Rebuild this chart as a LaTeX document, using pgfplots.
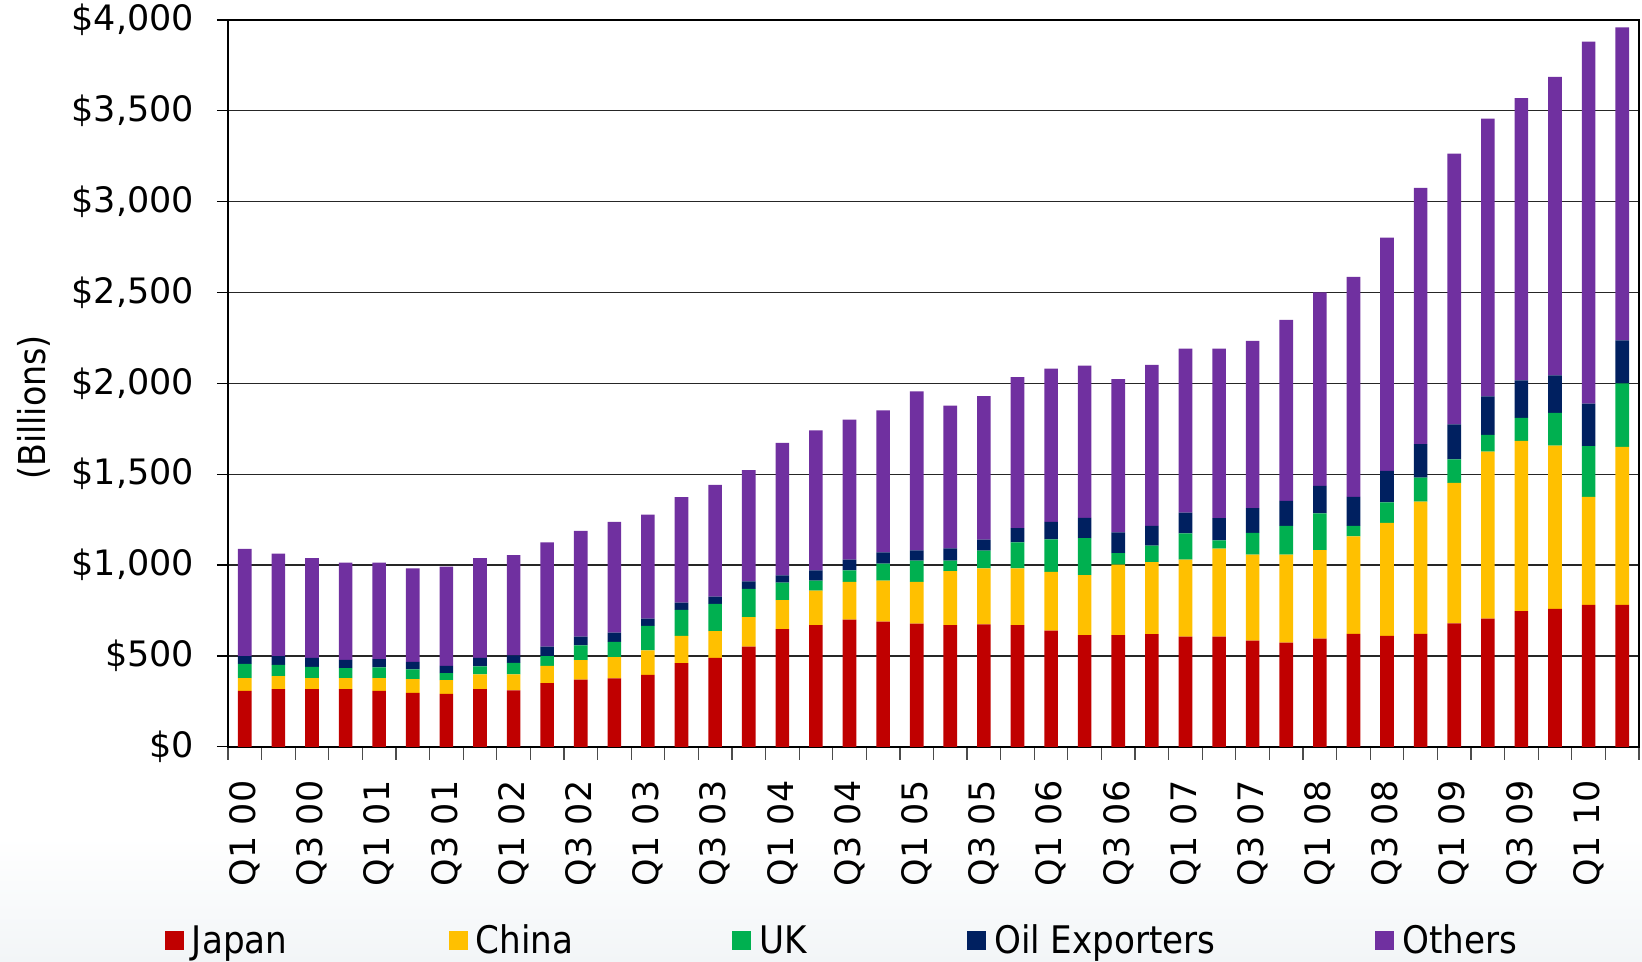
\documentclass[border=0pt]{standalone}
\usepackage{fontspec}
\setmainfont{DejaVu Sans}
\newfontfamily\condfont{DejaVu Sans Condensed}
\usepackage{pgfplots}
\usepackage{pgfplotstable}
\pgfplotsset{compat=1.18}

\definecolor{japan}{HTML}{C00000}
\definecolor{china}{HTML}{FFC000}
\definecolor{uk}{HTML}{00B050}
\definecolor{oil}{HTML}{002060}
\definecolor{others}{HTML}{7030A0}
\definecolor{footshade}{RGB}{242,245,247}

% Foreign holdings of US Treasuries by quarter, Q1 2000 - Q2 2010 (billions)
\pgfplotstableread{
q  Japan China UK  Oil Others
0  308   70    79  42  590
1  317   72    62  48  564
2  317   61    62  50  549
3  317   61    55  46  534
4  308   70    59  46  530
5  297   75    54  42  514
6  291   76    38  41  545
7  317   81    44  48  549
8  311   87    64  41  552
9  350   96    53  52  574
10 370   107   81  48  582
11 376   118   84  50  610
12 396   135   134 41  572
13 461   149   143 41  580
14 490   147   150 40  615
15 551   162   156 41  613
16 648   159   96  40  730
17 669   191   54  57  770
18 700   208   63  59  770
19 689   225   94  62  781
20 678   230   116 57  875
21 669   298   57  68  785
22 674   308   97  61  790
23 669   313   143 78  832
24 639   324   179 96  843
25 615   330   204 111 838
26 615   387   64  114 844
27 620   396   91  109 886
28 606   424   144 115 902
29 606   484   46  122 933
30 584   474   120 136 920
31 573   485   158 138 996
32 595   488   202 151 1065
33 621   537   58  160 1210
34 610   622   113 173 1284
35 621   728   133 184 1410
36 679   774   129 192 1491
37 706   918   93  211 1529
38 746   938   126 207 1553
39 759   899   180 206 1643
40 781   595   279 234 1992
41 781   870   349 237 1723
}\holdings

\begin{document}
\begin{tikzpicture}
\shade[top color=white, bottom color=footshade] (-114pt,-107.5pt) rectangle (707pt,-45pt);
\begin{axis}[
  at={(0,0)}, anchor=south west,
  scale only axis, width=705.5pt, height=363.4pt,
  ybar stacked, bar width=0.405,
  xmin=-0.5, xmax=41.5, ymin=0, ymax=4000,
  axis line style={black, line width=0.9pt},
  tick pos=left, tick align=outside,
  ytick={0,500,...,4000},
  major tick length=5.5pt,
  major tick style={black, line width=0.6pt},
  yticklabel={\$\pgfmathprintnumber{\tick}},
  yticklabel shift=7.9pt,
  /pgf/number format/1000 sep={,},
  /pgf/number format/assume math mode=true,
  ymajorgrids, major grid style={black!85, line width=0.6pt},
  xtick={0,2,...,40},
  xticklabels={Q1 00,Q3 00,Q1 01,Q3 01,Q1 02,Q3 02,Q1 03,Q3 03,Q1 04,Q3 04,
               Q1 05,Q3 05,Q1 06,Q3 06,Q1 07,Q3 07,Q1 08,Q3 08,Q1 09,Q3 09,Q1 10},
  major x tick style={draw=none},
  minor xtick={-0.5,0.5,...,41.5},
  minor tick length=6.5pt,
  minor tick style={black!70, line width=0.6pt},
  tick label style={font=\fontsize{17.5}{21}\selectfont},
  xticklabel style={rotate=90, anchor=east},
  xticklabel shift=7.9pt,
  ylabel={(Billions)},
  ylabel style={at={([xshift=-97pt]rel axis cs:0,0.467)}, anchor=center,
                font=\condfont\fontsize{18.5}{22}\selectfont},
  legend columns=5,
  legend style={draw=none, fill=none, inner sep=0pt,
    at={([xshift=-31.8pt,yshift=-97pt]rel axis cs:0,0)}, anchor=west,
    nodes={inner sep=0pt, font=\condfont\fontsize{19}{22}\selectfont},
    /tikz/every odd column/.style={column sep=4.1pt}},
  legend image code/.code={\path[draw=none, fill=none] (0pt,-6.95pt) rectangle (9.5pt,4.75pt);
                           \fill[#1] (0pt,-4.75pt) rectangle (9.5pt,4.75pt);},
]
\addplot[fill=japan, draw=none]  table[x=q, y=Japan]{\holdings};
\addplot[fill=china, draw=none]  table[x=q, y=China]{\holdings};
\addplot[fill=uk, draw=none]     table[x=q, y=UK]{\holdings};
\addplot[fill=oil, draw=none]    table[x=q, y=Oil]{\holdings};
\addplot[fill=others, draw=none] table[x=q, y=Others]{\holdings};
\addlegendentry{\makebox[128.3pt][l]{Japan}}
\addlegendentry{\makebox[128.3pt][l]{China}}
\addlegendentry{\makebox[103.7pt][l]{UK}}
\addlegendentry{\makebox[190.6pt][l]{Oil Exporters}}
\addlegendentry{Others}
\end{axis}
\pgfresetboundingbox
\path[use as bounding box] (-114pt,-107.5pt) rectangle (707pt,373.4pt);
\end{tikzpicture}
\end{document}
